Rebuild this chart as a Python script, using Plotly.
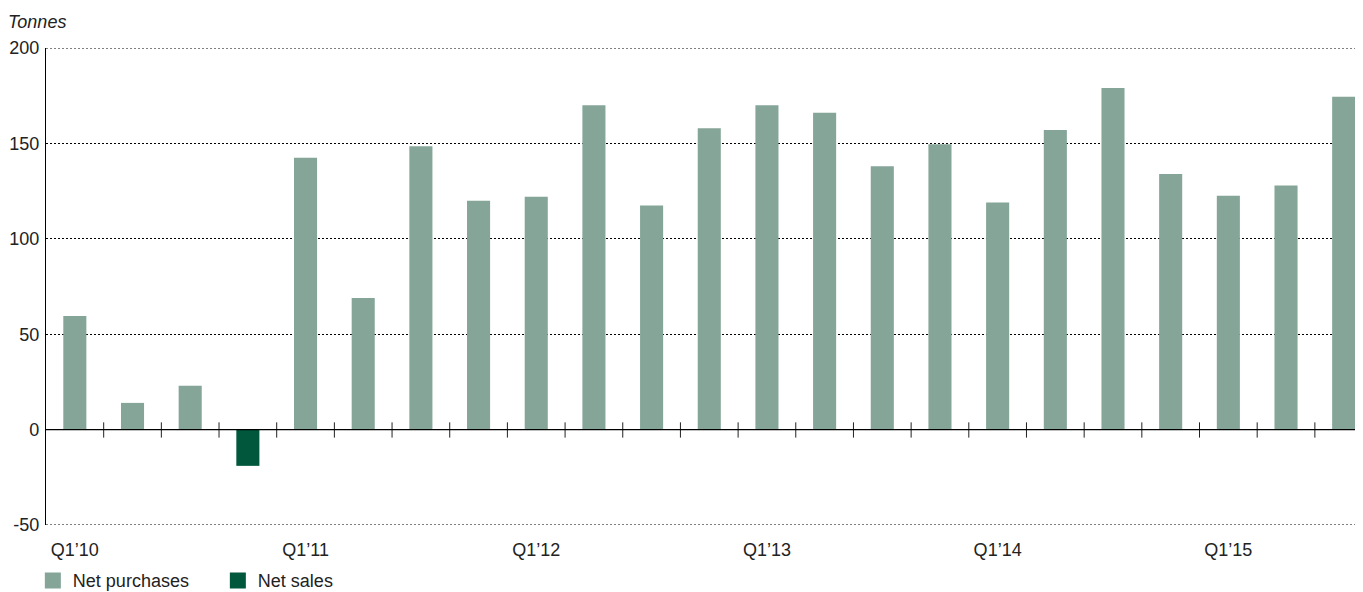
import plotly.graph_objects as go

quarters = ["Q1'10","Q2'10","Q3'10","Q4'10","Q1'11","Q2'11","Q3'11","Q4'11",
            "Q1'12","Q2'12","Q3'12","Q4'12","Q1'13","Q2'13","Q3'13","Q4'13",
            "Q1'14","Q2'14","Q3'14","Q4'14","Q1'15","Q2'15","Q3'15"]
net_purchases = [59.5, 14, 23, None, 142.5, 69, 148.5, 120, 122, 170, 117.5, 158,
                 170, 166, 138, 149.5, 119, 157, 179, 134, 122.5, 128, 174.5]
net_sales = [None, None, None, -19, None, None, None, None, None, None, None, None,
             None, None, None, None, None, None, None, None, None, None, None]
xtick_idx = [0, 4, 8, 12, 16, 20]
xtick_text = ["Q1\u201910", "Q1\u201911", "Q1\u201912", "Q1\u201913", "Q1\u201914", "Q1\u201915"]
ytick_vals = [-50, 0, 50, 100, 150, 200]
ytick_text = ["-50", "0", "50", "100", "150", "200"]

LIGHT = "#84A598"
DARK = "#00573C"
FONT = "Liberation Sans, Arial, sans-serif"
TXT = "#222222"
FS = 18

x = list(range(len(quarters)))
fig = go.Figure()
fig.add_trace(go.Bar(x=x, y=net_purchases, name="Net purchases", marker_color=LIGHT,
                     marker_line_width=0, width=0.4, hovertext=quarters,
                     showlegend=False, legendgroup="p"))
fig.add_trace(go.Bar(x=x, y=net_sales, name="Net sales", marker_color=DARK,
                     marker_line_width=0, width=0.4, hovertext=quarters,
                     showlegend=False, legendgroup="s"))
# legend entries with larger square swatches
fig.add_trace(go.Scatter(x=[None], y=[None], mode="markers", name="Net purchases",
                         marker=dict(symbol="square", size=16, color=LIGHT),
                         legendgroup="p"))
fig.add_trace(go.Scatter(x=[None], y=[None], mode="markers", name="Net sales",
                         marker=dict(symbol="square", size=16, color=DARK),
                         legendgroup="s"))

shapes = []
for i in range(len(quarters) - 1):
    shapes.append(dict(type="line", xref="x", yref="y", x0=i + 0.5, x1=i + 0.5,
                       y0=-4.2, y1=3.8, line=dict(color="#222222", width=1)))
shapes.append(dict(type="line", xref="paper", yref="y", x0=0, x1=1, y0=0, y1=0,
                   line=dict(color="#000000", width=1.2)))
for yv in [200, -50]:
    shapes.append(dict(type="line", xref="paper", yref="y", x0=0, x1=1, y0=yv, y1=yv,
                       line=dict(color="#000000", width=1.2, dash="2px,2px"), layer="below"))

fig.update_layout(
    width=1355, height=584,
    margin=dict(l=38, r=2, t=40, b=67, autoexpand=False),
    paper_bgcolor="white", plot_bgcolor="white",
    barmode="relative",
    font=dict(family=FONT, size=FS, color=TXT),
    shapes=shapes,
    showlegend=True,
    legend=dict(orientation="h", x=-0.01, xanchor="left", y=-0.078, yanchor="top",
                font=dict(size=FS, color=TXT), itemsizing="trace",
                entrywidth=140, entrywidthmode="pixels",
                traceorder="normal", bgcolor="rgba(0,0,0,0)"),
    annotations=[dict(text="<i>Tonnes</i>", xref="paper", yref="paper", x=0, y=1,
                      xanchor="left", yanchor="bottom", xshift=-40, yshift=14,
                      showarrow=False, font=dict(size=FS, color=TXT))],
)
fig.update_xaxes(range=[-0.5, 22.3], tickvals=xtick_idx, ticktext=xtick_text,
                 showgrid=False, zeroline=False, showline=False, ticks="",
                 ticklabelstandoff=12, tickfont=dict(size=FS, color=TXT))
fig.update_yaxes(range=[-50, 200], tickvals=ytick_vals, ticktext=ytick_text,
                 showgrid=True, gridcolor="#000000", griddash="2px,2px", gridwidth=1.2,
                 zeroline=False, showline=True, linecolor="#000000", linewidth=1.2,
                 ticks="", ticklabelstandoff=2, tickfont=dict(size=FS, color=TXT))

fig.write_html("out.html")
